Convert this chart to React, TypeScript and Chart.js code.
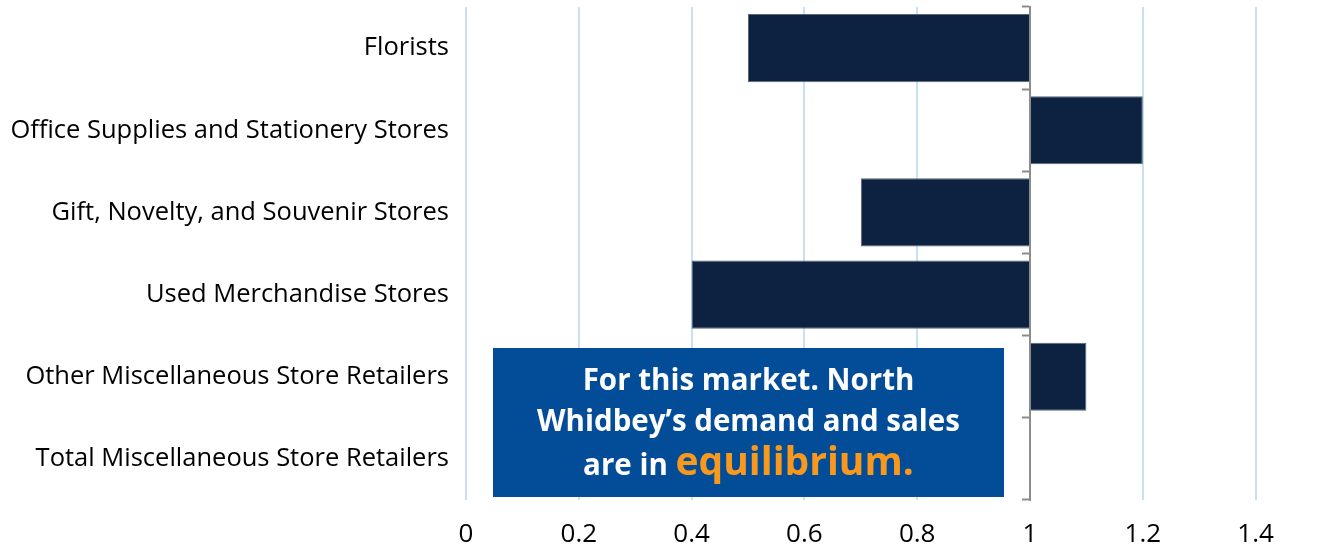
import React, { useEffect, useRef } from "react";
import { Chart, registerables } from "chart.js";

Chart.register(...registerables);

const categories = [
  "Florists",
  "Office Supplies and Stationery Stores",
  "Gift, Novelty, and Souvenir Stores",
  "Used Merchandise Stores",
  "Other Miscellaneous Store Retailers",
  "Total Miscellaneous Store Retailers",
];
const ratioValues = [0.5, 1.2, 0.7, 0.4, 1.1, 1.0];
const baseValue = 1;
const xMin = 0;
const xMax = 1.5;
const xStep = 0.2;
const noteLines = ["For this market. North", "Whidbey\u2019s demand and sales", "are in "];
const noteHighlight = "equilibrium.";

const FONT = "'Open Sans', sans-serif";

const notePlugin = {
  id: "noteBox",
  afterDraw(chart: any) {
    const ctx = chart.ctx;
    ctx.save();
    const x0 = 493, y0 = 348, w = 511, h = 149;
    ctx.fillStyle = "#034C97";
    ctx.fillRect(x0, y0, w, h);
    const cx = x0 + w / 2;
    ctx.textBaseline = "alphabetic";
    ctx.textAlign = "center";
    ctx.fillStyle = "#ffffff";
    ctx.font = `bold 29.5px ${FONT}`;
    ctx.fillText(noteLines[0], cx, 390);
    ctx.fillText(noteLines[1], cx, 431);
    ctx.textAlign = "left";
    const w1 = ctx.measureText(noteLines[2]).width;
    ctx.font = `bold 39px ${FONT}`;
    const w2 = ctx.measureText(noteHighlight).width;
    const start = cx - (w1 + w2) / 2;
    ctx.font = `bold 29.5px ${FONT}`;
    ctx.fillStyle = "#ffffff";
    ctx.fillText(noteLines[2], start, 475);
    ctx.font = `bold 39px ${FONT}`;
    ctx.fillStyle = "#F8981D";
    ctx.fillText(noteHighlight, start + w1, 475);
    ctx.restore();
  },
};

export default function App() {
  const ref = useRef<HTMLCanvasElement | null>(null);
  useEffect(() => {
    if (!ref.current) return;
    const chart = new Chart(ref.current, {
      type: "bar",
      data: {
        labels: categories,
        datasets: [
          {
            data: ratioValues,
            base: baseValue,
            backgroundColor: "#0C2240",
            borderColor: "#55657C",
            borderWidth: 1,
            barPercentage: 0.83,
            categoryPercentage: 1,
          } as any,
        ],
      },
      options: {
        indexAxis: "y",
        animation: false,
        responsive: false,
        maintainAspectRatio: false,
        layout: { padding: { top: 7, right: 26, left: 0, bottom: 0 } },
        plugins: { legend: { display: false }, tooltip: { enabled: false } },
        scales: {
          x: {
            type: "linear",
            min: xMin,
            max: xMax,
            ticks: {
              stepSize: xStep,
              includeBounds: false,
              color: "#000000",
              font: { family: FONT, size: 26 },
              padding: 19,
              callback: (v: any) => String(Math.round(Number(v) * 10) / 10),
            },
            grid: { color: "#C8E0F0", lineWidth: 2, drawTicks: false },
            border: { display: false },
            afterFit: (s: any) => { s.height = 48; s.paddingLeft = 0; s.paddingRight = 0; },
          },
          y: {
            type: "category",
            offset: true,
            ticks: {
              color: "#000000",
              font: { family: FONT, size: 25.5 },
              padding: 17,
            },
            grid: { display: false, drawTicks: false },
            border: { display: false },
            afterFit: (s: any) => { s.width = 466; s.paddingTop = 0; s.paddingBottom = 0; },
          },
          y2: {
            type: "category",
            axis: "y",
            position: { x: 1 } as any,
            offset: true,
            ticks: { display: false },
            grid: {
              offset: true,
              drawOnChartArea: false,
              drawTicks: true,
              tickLength: 7,
              tickWidth: 2,
              tickColor: "#8C8C8C",
            },
            border: { display: true, color: "#8C8C8C", width: 2 },
            afterFit: (s: any) => { s.paddingTop = 0; s.paddingBottom = 0; },
          } as any,
        },
      },
      plugins: [notePlugin],
    });
    return () => chart.destroy();
  }, []);
  return (
    <div style={{ position: "absolute", left: 0, top: 0, width: 1338, height: 548, background: "#fff" }}>
      <canvas ref={ref} width={1338} height={548} style={{ width: 1338, height: 548 }} />
    </div>
  );
}
